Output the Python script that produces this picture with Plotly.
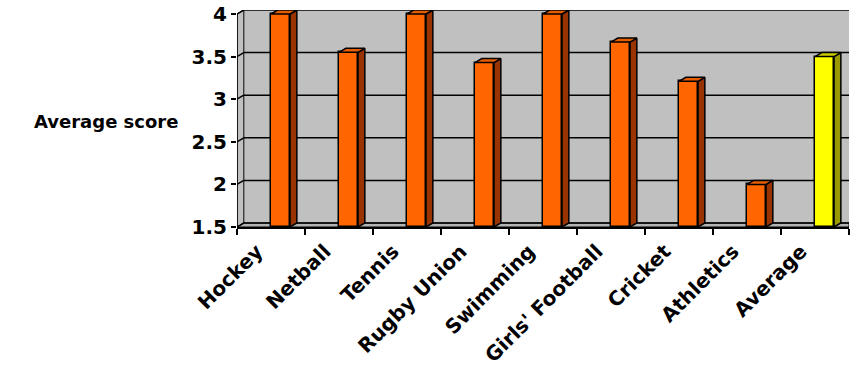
import plotly.graph_objects as go

categories = ["Hockey", "Netball", "Tennis", "Rugby Union", "Swimming",
              "Girls' Football", "Cricket", "Athletics", "Average"]
scores = [4.0, 3.55, 4.0, 3.43, 4.0, 3.67, 3.21, 2.0, 3.5]
front_colors = ["#FF6600"] * 8 + ["#FFFF00"]
side_colors = ["#993300"] * 8 + ["#999900"]
top_colors = ["#E65C00"] * 8 + ["#CCCC00"]
y_ticks = [1.5, 2, 2.5, 3, 3.5, 4]
y_ticktext = ["1.5", "2", "2.5", "3", "3.5", "4"]

BASE = 1.5
DX = 0.1       # depth offset in category units
DY = 0.047     # depth offset in value units
BAR_W = 0.28
BAR_OFF = 0.14

fig = go.Figure()

xs = [i + BAR_OFF for i in range(len(categories))]
fig.add_trace(go.Bar(
    x=xs, y=[v - BASE for v in scores], base=BASE, width=BAR_W,
    marker=dict(color=front_colors, line=dict(color="black", width=1.5)),
    hoverinfo="skip", showlegend=False, cliponaxis=False))

for x, v, sc, tc in zip(xs, scores, side_colors, top_colors):
    xl, xr = x - BAR_W / 2, x + BAR_W / 2
    fig.add_trace(go.Scatter(
        x=[xr, xr + DX, xr + DX, xr, xr], y=[BASE, BASE + DY, v + DY, v, BASE],
        fill="toself", fillcolor=sc, mode="lines", cliponaxis=False,
        line=dict(color="black", width=1.5), hoverinfo="skip", showlegend=False))
    fig.add_trace(go.Scatter(
        x=[xl, xl + DX, xr + DX, xr, xl], y=[v, v + DY, v + DY, v, v],
        fill="toself", fillcolor=tc, mode="lines", cliponaxis=False,
        line=dict(color="black", width=1.5), hoverinfo="skip", showlegend=False))

x0, x1 = -0.5, len(categories) - 0.5
shapes = []
shapes.append(dict(type="rect", xref="x", yref="y", x0=x0 + DX, x1=x1, y0=BASE + DY, y1=4 + DY,
                   fillcolor="#C0C0C0", line=dict(width=0), layer="below"))
shapes.append(dict(type="path", xref="x", yref="y",
                   path=f"M {x0},{BASE} L {x0+DX},{BASE+DY} L {x0+DX},{4+DY} L {x0},{4} Z",
                   fillcolor="#C0C0C0", line=dict(color="black", width=1), layer="below"))
shapes.append(dict(type="path", xref="x", yref="y",
                   path=f"M {x0},{BASE} L {x0+DX},{BASE+DY} L {x1},{BASE+DY} L {x1},{BASE} Z",
                   fillcolor="#B4B4B4", line=dict(color="black", width=1), layer="below"))
for t in y_ticks:
    shapes.append(dict(type="line", xref="x", yref="y", x0=x0 + DX, x1=x1, y0=t + DY, y1=t + DY,
                       line=dict(color="black", width=1.5), layer="below"))
    shapes.append(dict(type="line", xref="x", yref="y", x0=x0, x1=x0 + DX, y0=t, y1=t + DY,
                       line=dict(color="black", width=1.5), layer="below"))
shapes.append(dict(type="line", xref="x", yref="y", x0=x0, x1=x0, y0=BASE, y1=4,
                   line=dict(color="black", width=1.5), layer="above"))

fig.update_layout(
    width=850, height=375,
    margin=dict(l=237, r=1, t=10, b=148, autoexpand=False),
    paper_bgcolor="white", plot_bgcolor="white",
    shapes=shapes, bargap=0,
    font=dict(family="DejaVu Sans", color="black"),
    annotations=[dict(text="Average score", xref="paper", yref="paper",
                      x=-0.093, y=0.484, xanchor="right", yanchor="middle",
                      showarrow=False, font=dict(size=18, weight="bold", color="black"))],
)
fig.update_xaxes(
    range=[x0, x1], tickvals=list(range(len(categories))), ticktext=categories,
    tickangle=-45, ticks="", showgrid=False, zeroline=False, automargin=False,
    showline=True, linecolor="black", linewidth=1.5,
    ticklabelshift=-14, ticklabelstandoff=3, ticklabeloverflow="allow",
    tickfont=dict(size=20, weight="bold", color="black"),
    minor=dict(tickvals=[i - 0.5 for i in range(len(categories) + 1)], ticks="outside",
               ticklen=6, tickwidth=1.5, tickcolor="black", showgrid=False),
)
fig.update_yaxes(
    range=[BASE, 4 + DY], tickvals=y_ticks, ticktext=y_ticktext, automargin=False,
    ticks="outside", ticklen=5, tickwidth=1.5, tickcolor="black",
    ticklabeloverflow="allow",
    showgrid=False, zeroline=False, showline=False,
    tickfont=dict(size=20, weight="bold", color="black"),
)

fig.write_html("out.html", config={"displayModeBar": False},
               post_script="document.body.style.margin='0';")
